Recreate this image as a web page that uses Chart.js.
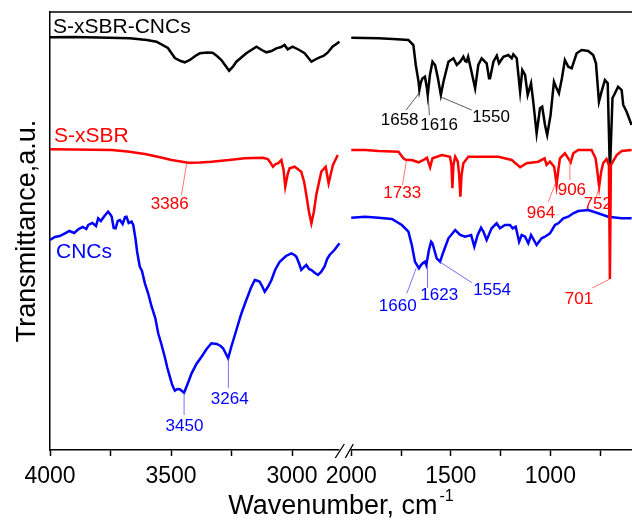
<!DOCTYPE html>
<html>
<head>
  <script src="https://cdn.jsdelivr.net/npm/chart.js@4.4.1/dist/chart.umd.min.js"></script>
  <style>
    body { margin: 0; background: #fff; }
    canvas { display: block; }
  </style>
</head>
<body>
  <canvas id="ftirChart" width="632" height="522"></canvas>

  <script>
    // FTIR spectra, wavenumber in cm-1, transmittance in a.u. (curves are offset)
    // every series is split in two: high range (4000-2800) and low range (2000-600)

    // S-xSBR-CNCs (black)
    const compHiWn = [4000, 3900, 3800, 3670, 3600, 3560, 3513, 3484, 3460, 3443, 3422, 3400, 3381, 3350, 3328, 3310, 3292, 3260, 3245, 3230, 3189, 3147, 3125, 3106, 3085, 3065, 3045, 3031, 3018, 2998, 2970, 2948, 2920, 2900, 2886, 2870, 2853, 2833, 2804];
    const compHi = [412.7, 413, 412.5, 411.7, 410, 408.3, 402, 392, 389, 387.7, 390, 394, 396.7, 397.5, 397.3, 394, 390, 379.3, 383, 388.3, 396.7, 403.3, 400, 397.7, 399, 401.7, 403, 405, 400.7, 403.3, 400, 396.7, 388.3, 391, 392.7, 394, 397.3, 403.3, 408.3];
    const compLoWn = [2000, 1930, 1863, 1790, 1713, 1688, 1676, 1662, 1658, 1650, 1642, 1630, 1620, 1616, 1605, 1592, 1579, 1565, 1550, 1537, 1512, 1487, 1470, 1453, 1437, 1428, 1421, 1413, 1400, 1378, 1362, 1345, 1320, 1308, 1303, 1286, 1269, 1258, 1236, 1211, 1194, 1186, 1169, 1152, 1141, 1127, 1114, 1097, 1086, 1069, 1052, 1041, 1027, 1016, 999, 982, 972, 957, 942, 927, 910, 893, 868, 843, 810, 785, 771, 756, 743, 726, 712, 701, 688, 680, 660, 642, 634, 617, 592];
    const compLo = [412.3, 412, 411.7, 411, 410, 405, 385, 368.3, 360, 368, 371.7, 373.3, 361.7, 355, 375, 388.3, 385, 372, 355, 368.3, 388.3, 391.7, 385, 388.3, 393.3, 389, 388.3, 393.3, 381.7, 361.7, 385, 391.7, 386.7, 371.7, 371.7, 388.3, 394.3, 386.7, 393.3, 395, 391.7, 395.7, 391.7, 358.3, 380, 375, 355, 366.7, 348.3, 316.7, 341.7, 343.3, 325, 315, 335, 368.3, 363.3, 356.7, 371.7, 390, 383.3, 381.7, 396.7, 400, 399, 395, 386.7, 348.3, 358.3, 370, 366.7, 277, 352, 355, 363.3, 360, 345, 338.3, 325];

    // S-xSBR (red)
    const sbrHiWn = [4000, 3900, 3745, 3680, 3608, 3550, 3498, 3429, 3380, 3333, 3260, 3196, 3121, 3100, 3092, 3079, 3068, 3058, 3044, 3035, 3028, 3018, 3010, 2989, 2962, 2950, 2941, 2930, 2920, 2910, 2900, 2879, 2861, 2849, 2840, 2831, 2811];
    const sbrHi = [300.7, 300.5, 300, 298.5, 296, 293, 290, 287.3, 287.5, 288.3, 290, 291.7, 292.3, 291, 288.3, 283.3, 286, 286.7, 290, 280, 263.3, 276, 281.7, 283.3, 278.3, 268, 255, 238, 226.7, 238, 255, 278.3, 283.3, 266.7, 276, 285, 295];
    const sbrLoWn = [2000, 1930, 1863, 1763, 1738, 1724, 1696, 1662, 1637, 1620, 1604, 1592, 1545, 1504, 1497, 1492, 1487, 1478, 1465, 1458, 1452, 1446, 1437, 1412, 1328, 1261, 1194, 1152, 1119, 1061, 1029, 1019, 1002, 981, 975, 969, 960, 952, 927, 910, 898, 885, 860, 793, 773, 765, 755, 745, 735, 718, 706, 701, 696, 667, 642, 592];
    const sbrLo = [300, 300, 299, 298.3, 291.7, 290, 290, 287.7, 290, 292.3, 282.7, 291.7, 295, 293.3, 285, 261.7, 285, 293.3, 288.3, 275, 253.3, 275, 286.7, 293.3, 293.3, 293.3, 290, 282.7, 286.7, 288.3, 291.7, 285, 288.3, 283.3, 275, 265, 280, 291.7, 296.7, 291.7, 287.7, 296.7, 300, 300, 291.7, 280, 263.3, 278, 286.7, 291, 285, 171, 285, 295, 299, 300];

    // CNCs (blue)
    const cncHiWn = [4000, 3980, 3960, 3938, 3920, 3900, 3883, 3865, 3850, 3842, 3825, 3810, 3801, 3790, 3775, 3760, 3752, 3745, 3737, 3729, 3720, 3711, 3700, 3690, 3684, 3675, 3663, 3656, 3646, 3640, 3629, 3620, 3608, 3595, 3580, 3565, 3553, 3540, 3526, 3515, 3505, 3495, 3484, 3474, 3464, 3455, 3446, 3430, 3415, 3395, 3374, 3353, 3333, 3311, 3295, 3285, 3275, 3264, 3250, 3230, 3210, 3189, 3170, 3154, 3140, 3134, 3124, 3113, 3100, 3085, 3070, 3051, 3025, 3003, 2990, 2982, 2970, 2962, 2950, 2941, 2930, 2920, 2905, 2893, 2880, 2866, 2855, 2845, 2825, 2804];
    const cncHi = [210, 213, 214, 216.7, 219, 217, 220.7, 223, 221, 225, 227, 224, 231.7, 229, 234, 238.3, 236, 233.3, 222, 221.7, 229, 230, 226, 233, 233.3, 227, 228.3, 225, 210, 198, 183.3, 179, 166.7, 157, 143.3, 132, 116.7, 106, 93.3, 82, 73.3, 65, 59.3, 61, 60.7, 59, 57.3, 67, 76.7, 86, 93.3, 101, 106.7, 106, 104, 101.7, 97, 91.7, 104, 120, 136, 150, 162, 170, 169, 168.3, 164, 158.3, 163, 170, 180, 188.3, 194, 196.7, 195, 193.3, 186, 180, 183, 185, 181, 180, 177, 175, 178, 183.3, 191, 195, 200, 206.7];
    const cncLoWn = [2000, 1930, 1863, 1796, 1746, 1713, 1696, 1680, 1660, 1650, 1640, 1630, 1623, 1610, 1599, 1592, 1580, 1571, 1554, 1537, 1512, 1478, 1453, 1428, 1398, 1382, 1365, 1348, 1336, 1320, 1295, 1270, 1253, 1228, 1203, 1189, 1174, 1157, 1144, 1127, 1111, 1097, 1069, 1044, 1027, 1002, 977, 960, 935, 910, 885, 860, 810, 760, 710, 642, 592];
    const cncLo = [232.3, 233.3, 232.3, 231, 225, 218.3, 205, 188.3, 181.7, 185, 187, 188.3, 185, 200, 208.3, 206.7, 198, 191.7, 188.3, 198.3, 211.7, 220, 215, 213.3, 215, 203.3, 215, 222.3, 218.3, 210, 221.7, 226.7, 221.7, 225, 225, 221.7, 223.3, 208.3, 215, 213.3, 206.7, 215, 205, 211.7, 213.3, 216.7, 225, 226.7, 231.7, 233.3, 236.7, 239, 240, 236.7, 233.3, 231.7, 231.7];

    const tickMarks = [4000, 3750, 3500, 3250, 3000, 2000, 1750, 1500, 1250, 1000, 750];
    const tickLabels = [4000, 3500, 3000, 2000, 1500, 1000];

    const BLACK = '#000000', RED = '#ff0000', BLUE = '#0000ff';
    const FONT = 'Arial, "Liberation Sans", sans-serif';

    // peak labels: tip on the curve (wn, val), text centre and leader end as pixel offsets
    const peaks = [
      {text: '1658', axis: 'lo', wn: 1654, val: 358.3, dx: -20.5, dy: 28.3, ex: -14, ey: 18.3, color: BLACK, lead: '#333'},
      {text: '1616', axis: 'lo', wn: 1614, val: 355, dx: 11, dy: 30, ex: 1.3, ey: 20, color: BLACK, lead: '#333'},
      {text: '1550', axis: 'lo', wn: 1554, val: 353.3, dx: 51, dy: 20.3, ex: 31.7, ey: 13.3, color: BLACK, lead: '#333'},
      {text: '3386', axis: 'hi', wn: 3435, val: 287, dx: -17, dy: 41, ex: -5.3, ey: 32, color: RED, lead: '#ff5050'},
      {text: '1733', axis: 'lo', wn: 1724, val: 288.3, dx: -4, dy: 31.3, ex: -3.7, ey: 23.3, color: RED, lead: '#ff5050'},
      {text: '964', axis: 'lo', wn: 968, val: 270, dx: -15.7, dy: 33, ex: -8.4, ey: 21.7, color: RED, lead: '#ff5050'},
      {text: '906', axis: 'lo', wn: 902, val: 291.7, dx: 2, dy: 31.7, ex: 0, ey: 21.7, color: RED, lead: '#ff5050'},
      {text: '752', axis: 'lo', wn: 755, val: 263.3, dx: -1.3, dy: 17.3, ex: -2.6, ey: 10, color: RED, lead: '#ff5050'},
      {text: '701', axis: 'lo', wn: 701, val: 171, dx: -31, dy: 20.7, ex: -17.7, ey: 9, color: RED, lead: '#ff5050'},
      {text: '3450', axis: 'hi', wn: 3446, val: 57, dx: 0.4, dy: 33.7, ex: 0, ey: 22, color: BLUE, lead: '#5050ff'},
      {text: '3264', axis: 'hi', wn: 3263, val: 91.7, dx: 1.3, dy: 40.7, ex: 0, ey: 29.7, color: BLUE, lead: '#5050ff'},
      {text: '1660', axis: 'lo', wn: 1674, val: 181.7, dx: -18.5, dy: 38.4, ex: -9.3, ey: 25, color: BLUE, lead: '#5050ff'},
      {text: '1623', axis: 'lo', wn: 1617, val: 185, dx: 11.7, dy: 30, ex: 0, ey: 23, color: BLUE, lead: '#5050ff'},
      {text: '1554', axis: 'lo', wn: 1557, val: 188.3, dx: 52.7, dy: 28.3, ex: 32.4, ey: 21, color: BLUE, lead: '#5050ff'}
    ];

    // series names, written at the left edge
    const names = [
      {text: 'S-xSBR-CNCs', val: 416.7, dx: 3, color: BLACK},
      {text: 'S-xSBR', val: 308.3, dx: 4, color: RED},
      {text: 'CNCs', val: 191.7, dx: 6, color: BLUE}
    ];

    function toPoints(wn, val) {
      return wn.map((w, i) => ({x: w, y: val[i]}));
    }

    function line(data, axis, color) {
      return {
        data: data,
        xAxisID: axis,
        borderColor: color,
        borderWidth: 2.5,
        pointRadius: 0,
        fill: false,
        tension: 0
      };
    }

    function xAxis(min, max, weight) {
      return {
        type: 'linear',
        position: 'bottom',
        stack: 'wn',
        stackWeight: weight,
        reverse: true,
        min: min,
        max: max,
        border: {display: true, color: '#000', width: 1.5},
        grid: {display: true, drawOnChartArea: false, drawTicks: true, tickLength: 6, tickWidth: 1.5, tickColor: '#000'},
        ticks: {
          autoSkip: false,
          maxRotation: 0,
          padding: 7,
          color: '#000',
          font: {size: 23, family: FONT},
          callback: v => tickLabels.includes(v) ? String(v) : ''
        },
        afterBuildTicks: s => {
          s.ticks = tickMarks.filter(v => v >= s.min && v <= s.max).map(v => ({value: v}));
        },
        afterFit: s => {
          s.height = 72;
          s.paddingLeft = 0;
          s.paddingRight = 0;
        }
      };
    }

    const decor = {
      id: 'decor',
      afterDraw(chart) {
        const {ctx, chartArea: a, scales} = chart;
        const hi = scales.xHi, lo = scales.xLo, y = scales.y;
        ctx.save();

        // top frame line
        ctx.strokeStyle = '#000';
        ctx.lineWidth = 1.5;
        ctx.beginPath();
        ctx.moveTo(a.left, a.top);
        ctx.lineTo(a.right, a.top);
        ctx.stroke();

        // axis break //
        const bx = hi.right;
        ctx.fillStyle = '#fff';
        ctx.fillRect(bx - 6, a.bottom - 3, 11, 6);
        ctx.lineWidth = 1.3;
        ctx.beginPath();
        ctx.moveTo(bx - 10, a.bottom + 8); ctx.lineTo(bx - 1, a.bottom - 6);
        ctx.moveTo(bx, a.bottom + 8); ctx.lineTo(bx + 8, a.bottom - 6);
        ctx.stroke();

        // peak labels
        ctx.font = '17px ' + FONT;
        ctx.textAlign = 'center';
        ctx.textBaseline = 'middle';
        peaks.forEach(p => {
          const sx = p.axis === 'hi' ? hi : lo;
          const tx = sx.getPixelForValue(p.wn), ty = y.getPixelForValue(p.val);
          ctx.strokeStyle = p.lead;
          ctx.lineWidth = 0.8;
          ctx.beginPath();
          ctx.moveTo(tx, ty);
          ctx.lineTo(tx + p.ex, ty + p.ey);
          ctx.stroke();
          ctx.fillStyle = p.color;
          ctx.fillText(p.text, tx + p.dx, ty + p.dy);
        });

        // series names
        ctx.font = '21px ' + FONT;
        ctx.textAlign = 'left';
        ctx.textBaseline = 'alphabetic';
        names.forEach(n => {
          ctx.fillStyle = n.color;
          ctx.fillText(n.text, a.left + n.dx, y.getPixelForValue(n.val));
        });

        // axis titles
        ctx.fillStyle = '#000';
        ctx.font = '27px ' + FONT;
        const main = 'Wavenumber, cm';
        const wMain = ctx.measureText(main).width;
        ctx.font = '16px ' + FONT;
        const wSup = ctx.measureText('-1').width;
        const x0 = (a.left + a.right) / 2 - (wMain + wSup + 2) / 2;
        ctx.font = '27px ' + FONT;
        ctx.fillText(main, x0, chart.height - 8);
        ctx.font = '16px ' + FONT;
        ctx.fillText('-1', x0 + wMain + 2, chart.height - 21);

        ctx.font = '27px ' + FONT;
        ctx.textAlign = 'center';
        ctx.translate(35, (a.top + a.bottom) / 2);
        ctx.rotate(-Math.PI / 2);
        ctx.fillText('Transmittance,a.u.', 0, 0);
        ctx.restore();
      }
    };

    new Chart(document.getElementById('ftirChart'), {
      type: 'line',
      data: {
        datasets: [
          line(toPoints(sbrHiWn, sbrHi), 'xHi', RED),
          line(toPoints(sbrLoWn, sbrLo), 'xLo', RED),
          line(toPoints(compHiWn, compHi), 'xHi', BLACK),
          line(toPoints(compLoWn, compLo), 'xLo', BLACK),
          line(toPoints(cncHiWn, cncHi), 'xHi', BLUE),
          line(toPoints(cncLoWn, cncLo), 'xLo', BLUE)
        ]
      },
      options: {
        responsive: false,
        animation: false,
        devicePixelRatio: 1,
        layout: {padding: {top: 12, left: 0, right: 0, bottom: 0}, autoPadding: false},
        plugins: {legend: {display: false}, tooltip: {enabled: false}},
        scales: {
          xHi: xAxis(2780, 4000, 295.7),
          xLo: xAxis(590, 2030, 287.1),
          y: {
            min: 0,
            max: 438,
            ticks: {display: false},
            grid: {display: false},
            border: {display: true, color: '#000', width: 1.5},
            afterFit: s => { s.width = 50; }
          }
        }
      },
      plugins: [decor]
    });
  </script>
</body>
</html>
